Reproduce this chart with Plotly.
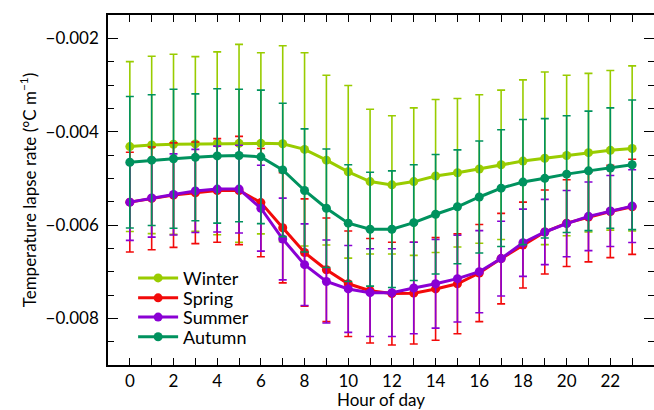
import plotly.graph_objects as go

hours = list(range(24))

winter_mean = [-0.00432, -0.004285, -0.00427, -0.004263, -0.00425, -0.00425, -0.00425, -0.00426,
               -0.00438, -0.00461, -0.00486, -0.00507, -0.00514, -0.00507, -0.00495, -0.00488,
               -0.00480, -0.00471, -0.00463, -0.00457, -0.00451, -0.00445, -0.00440, -0.00436]
winter_err = [0.00182, 0.00190, 0.00193, 0.00187, 0.00196, 0.00212, 0.00194, 0.00210,
              0.00207, 0.00182, 0.00185, 0.00155, 0.00148, 0.00158, 0.00164, 0.00159,
              0.00159, 0.00160, 0.00174, 0.00185, 0.00172, 0.00170, 0.00171, 0.00177]

spring_mean = [-0.00551, -0.00543, -0.00536, -0.00531, -0.00526, -0.00526, -0.00552, -0.00606,
               -0.00659, -0.00696, -0.00726, -0.00741, -0.00747, -0.00746, -0.00737, -0.00726,
               -0.00703, -0.00672, -0.00643, -0.00615, -0.00596, -0.00583, -0.00571, -0.00561]
spring_err = [0.00107, 0.00110, 0.00112, 0.00109, 0.00111, 0.00116, 0.00116, 0.00118,
              0.00115, 0.00111, 0.00113, 0.00112, 0.00110, 0.00109, 0.00110, 0.00107,
              0.00104, 0.00097, 0.00092, 0.00090, 0.00093, 0.00096, 0.00099, 0.00102]

summer_mean = [-0.00551, -0.00542, -0.005345, -0.00527, -0.00523, -0.00523, -0.00564, -0.00630,
               -0.00685, -0.00721, -0.00737, -0.00745, -0.00745, -0.00735, -0.00726, -0.00715,
               -0.00700, -0.00672, -0.00638, -0.00615, -0.00597, -0.005815, -0.00570, -0.005595]
summer_err = [0.00082, 0.00084, 0.00087, 0.00089, 0.00092, 0.00094, 0.00092, 0.000875,
              0.000875, 0.00089, 0.00093, 0.00094, 0.00094, 0.00098, 0.00095, 0.00093,
              0.00088, 0.00080, 0.00072, 0.00070, 0.00071, 0.000735, 0.00076, 0.00078]

autumn_mean = [-0.004655, -0.00461, -0.00458, -0.00455, -0.00452, -0.00451, -0.00454, -0.00482,
               -0.00526, -0.00564, -0.00596, -0.00609, -0.00609, -0.00595, -0.00577, -0.00561,
               -0.00540, -0.00521, -0.00508, -0.00500, -0.00491, -0.00484, -0.00478, -0.00471]
autumn_err = [0.00141, 0.00140, 0.00149, 0.00136, 0.00144, 0.00142, 0.00143, 0.00143,
              0.00132, 0.00127, 0.00125, 0.00122, 0.00125, 0.00124, 0.00128, 0.00122,
              0.00120, 0.00125, 0.00134, 0.00128, 0.00125, 0.00128, 0.00129, 0.00139]

series = [
    ("Winter", winter_mean, winter_err, "#99cc00"),
    ("Spring", spring_mean, spring_err, "#f20a0a"),
    ("Summer", summer_mean, summer_err, "#8a00d4"),
    ("Autumn", autumn_mean, autumn_err, "#00925e"),
]

FONT = "Lato"
legend_ids = ["legend", "legend2", "legend3", "legend4"]
legend_rows = [0.248, 0.191, 0.136, 0.080]

fig = go.Figure()
for (name, mean, err, color), lid in zip(series, legend_ids):
    fig.add_trace(go.Scatter(
        x=hours, y=mean, name=name, mode="lines+markers",
        line=dict(color=color, width=3),
        marker=dict(color=color, size=9),
        error_y=dict(type="data", array=err, visible=True, color=color,
                     thickness=1.6, width=4),
        legend=lid,
    ))

legend_layout = {}
for lid, ry in zip(legend_ids, legend_rows):
    legend_layout[lid] = dict(x=0.046, y=ry, xanchor="left", yanchor="middle",
                              bgcolor="rgba(0,0,0,0)", font=dict(size=18, family=FONT),
                              itemwidth=40)

fig.update_layout(
    width=654, height=410,
    margin=dict(l=108, r=0, t=15, b=45),
    paper_bgcolor="white", plot_bgcolor="white",
    font=dict(family=FONT, size=17, color="black"),
    showlegend=True,
    **legend_layout,
)

fig.update_xaxes(
    range=[-1, 24], showgrid=False, zeroline=False, automargin=False,
    showline=True, linecolor="black", linewidth=1.5, mirror="ticks",
    ticks="inside", ticklen=7, tickwidth=1.2, tickcolor="black",
    tick0=0, dtick=2,
    minor=dict(dtick=1, ticks="inside", ticklen=7, tickcolor="black", tickwidth=1.2, showgrid=False),
    tickfont=dict(size=17, family=FONT),
    ticklabelstandoff=0,
    title=dict(text="Hour of day", font=dict(size=17, family=FONT), standoff=2),
)
fig.update_yaxes(
    range=[-0.009, -0.0015], showgrid=False, zeroline=False, automargin=False,
    showline=True, linecolor="black", linewidth=1.5, mirror="ticks",
    ticks="inside", ticklen=10, tickwidth=1.2, tickcolor="black",
    tick0=0, dtick=0.002, tickformat=".3f",
    minor=dict(dtick=0.0005, ticks="inside", ticklen=6, tickcolor="black", tickwidth=1.2, showgrid=False),
    tickfont=dict(size=17, family=FONT),
    ticklabelstandoff=4,
    title=dict(text="Temperature lapse rate (°C m<sup>−1</sup>)", font=dict(size=17, family=FONT), standoff=5),
)

fig.write_html("out.html", config={"displayModeBar": False},
               post_script="document.body.style.margin='0';document.body.style.overflow='hidden';")
